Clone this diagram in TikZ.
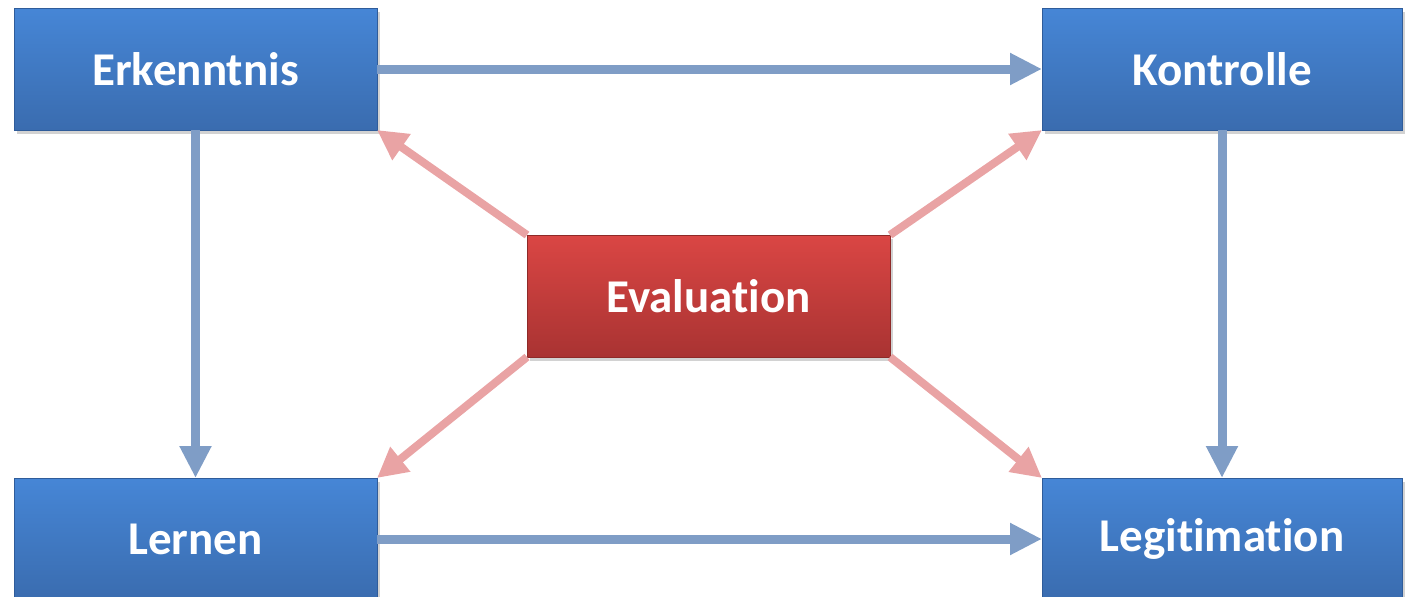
\documentclass[tikz,border=0pt]{standalone}
\usepackage{fontspec}
\setmainfont{Carlito}[Ligatures={NoCommon}]
\usetikzlibrary{arrows.meta,shadows}
\definecolor{bluetop}{HTML}{4686D6}
\definecolor{bluebot}{HTML}{3A6CAF}
\definecolor{blueedge}{HTML}{2F5C9A}
\definecolor{redtop}{HTML}{DA4644}
\definecolor{redbot}{HTML}{A93332}
\definecolor{rededge}{HTML}{8E2A28}
\definecolor{bluearrow}{HTML}{7F9DC6}
\definecolor{pinkarrow}{HTML}{E9A3A4}
\tikzset{
  box/.style={rectangle, minimum width=#1, minimum height=122pt, inner sep=0pt, outer sep=0pt,
    text=white, font=\fontsize{47}{50}\selectfont\bfseries,
    drop shadow={shadow xshift=3pt, shadow yshift=-4pt, fill=black!35, opacity=0.5}},
  bluebox/.style={box=#1, top color=bluetop, bottom color=bluebot, draw=blueedge, line width=1pt},
  redbox/.style={box=363pt, top color=redtop, bottom color=redbot, draw=rededge, line width=1pt},
  barrow/.style={draw=bluearrow, line width=9pt, -{Triangle[width=30pt,length=32pt]}},
  parrow/.style={draw=pinkarrow, line width=8pt, -{Triangle[width=30pt,length=30pt]}},
}
\begin{document}
\begin{tikzpicture}[x=1pt,y=1pt]
\useasboundingbox (0,0) rectangle (1406,-597);
\clip (0,0) rectangle (1406,-597);
\node[bluebox=363pt] (erk) at (195.5,-69) {Erkenntnis};
\node[bluebox=360pt] (kon) at (1222,-69) {Kontrolle};
\node[bluebox=363pt] (ler) at (195.5,-539) {Lernen};
\node[bluebox=360pt] (leg) at (1222,-539) {Legitimation};
\node[redbox] (eva) at (708.5,-296) {Evaluation};
\draw[barrow] (erk.east) -- (kon.west);
\draw[barrow] (ler.east) -- (leg.west);
\draw[barrow] (erk.south) -- (ler.north);
\draw[barrow] (kon.south) -- (leg.north);
\draw[parrow] (eva.north west) -- (erk.south east);
\draw[parrow] (eva.north east) -- (kon.south west);
\draw[parrow] (eva.south west) -- (ler.north east);
\draw[parrow] (eva.south east) -- (leg.north west);
\end{tikzpicture}
\end{document}
